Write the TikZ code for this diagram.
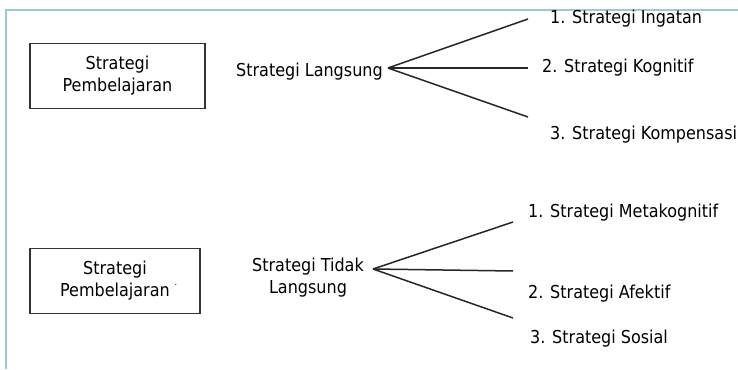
\documentclass[tikz,border=0pt]{standalone}
\usepackage{fontspec}
\setmainfont{DejaVu Sans Condensed}
\usepackage{tikz}
\usetikzlibrary{positioning}
\definecolor{framecol}{RGB}{158,200,210}

\begin{document}
\begin{tikzpicture}[
  x=1pt, y=-1pt,
  every node/.style={font=\fontsize{17.8}{22}\selectfont, inner sep=0pt, text=black},
  sbox/.style={draw=black!80, line width=1.4pt, minimum width=175pt, minimum height=65pt, align=center},
  txt/.style={align=center},
  branch/.style={line width=1.5pt, black!85},
]
  \useasboundingbox (0,0) rectangle (738,369);
  \draw[framecol, line width=2pt] (6,369) -- (6,10) -- (740,10);

  % Strategi langsung
  \node[sbox] (sp1) at (117.5,76) {Strategi\\Pembelajaran};
  \node[txt, anchor=west] (lang) at (236,72) {Strategi Langsung};
  \coordinate (l1) at (528,19);
  \coordinate (l2) at (528,68);
  \coordinate (l3) at (528,117);
  \draw[branch] (lang.east) ++(5pt,4pt) coordinate (lf) -- (l1);
  \draw[branch] (lf) -- (l2);
  \draw[branch] (lf) -- (l3);
  \node[anchor=west, right=22pt of l1] (ingat) {1. Strategi Ingatan};
  \node[anchor=west, right=14pt of l2] (kogn) {2. Strategi Kognitif};
  \node[anchor=west] (komp) at (550,135) {3. Strategi Kompensasi};

  % Strategi tidak langsung
  \node[sbox, minimum width=170pt] (sp2) at (115,281) {Strategi\\Pembelajaran\rlap{\raisebox{1.2ex}{\;\small.}}};
  \node[txt, anchor=west] (tlang) at (252,278) {Strategi Tidak\\Langsung};
  \coordinate (t1) at (513,222);
  \coordinate (t2) at (513,271);
  \coordinate (t3) at (513,318);
  \coordinate (tf) at (373,269);
  \draw[branch] (tf) -- (t1);
  \draw[branch] (tf) -- (t2);
  \draw[branch] (tf) -- (t3);
  \node[anchor=west] (meta) at (528,213) {1. Strategi Metakognitif};
  \node[anchor=west] (afek) at (528,294) {2. Strategi Afektif};
  \node[anchor=west] (sos) at (530,339) {3. Strategi Sosial};
\end{tikzpicture}
\end{document}
